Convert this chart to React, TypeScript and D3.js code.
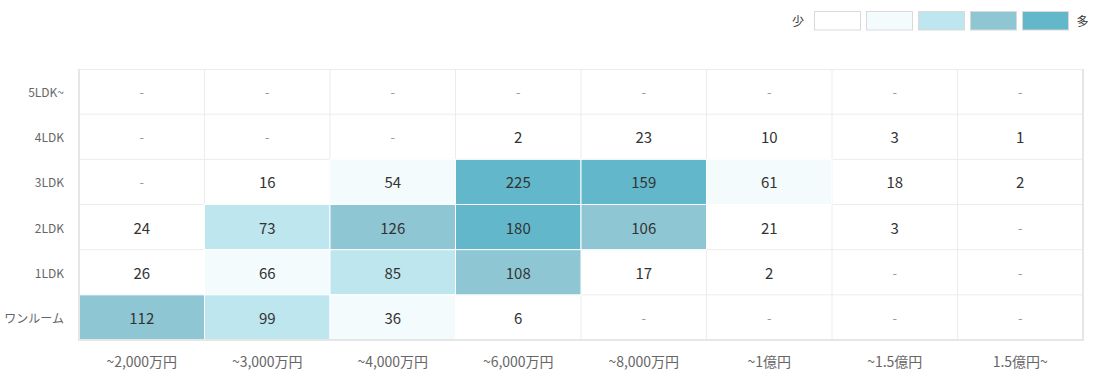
import React from "react";
import * as d3 from "d3";

const columns = ["~2,000万円", "~3,000万円", "~4,000万円", "~6,000万円", "~8,000万円", "~1億円", "~1.5億円", "1.5億円~"];
const rows = ["5LDK~", "4LDK", "3LDK", "2LDK", "1LDK", "ワンルーム"];
const row5LDK: (number | null)[] = [null, null, null, null, null, null, null, null];
const row4LDK: (number | null)[] = [null, null, null, 2, 23, 10, 3, 1];
const row3LDK: (number | null)[] = [null, 16, 54, 225, 159, 61, 18, 2];
const row2LDK: (number | null)[] = [24, 73, 126, 180, 106, 21, 3, null];
const row1LDK: (number | null)[] = [26, 66, 85, 108, 17, 2, null, null];
const rowOneRoom: (number | null)[] = [112, 99, 36, 6, null, null, null, null];
const values = [row5LDK, row4LDK, row3LDK, row2LDK, row1LDK, rowOneRoom];
const thresholds = [30, 70, 100, 150];
const palette = ["#ffffff", "#f3fbfd", "#bee6ee", "#8ec7d3", "#62b7ca"];

export default function App() {
  const W = 1093, H = 380;
  const left = 79, right = 1083, top = 69, bottom = 340;
  const x = d3.scaleBand<string>().domain(columns).range([left, right]);
  const y = d3.scaleBand<string>().domain(rows).range([top, bottom]);
  const color = d3.scaleThreshold<number, string>().domain(thresholds).range(palette);
  const font = "'Noto Sans CJK JP', 'Noto Sans', sans-serif";
  const lx = d3.scaleBand<number>().domain(d3.range(5)).range([814, 1069]).paddingInner(5 / 52).paddingOuter(0);

  return (
    <svg width={W} height={H} style={{ position: "absolute", left: 0, top: 0 }} fontFamily={font}>
      <rect x={0} y={0} width={W} height={H} fill="#fff" />
      {/* legend */}
      <text x={798} y={20.5} fontSize={12} fill="#333" textAnchor="middle" dominantBaseline="central">少</text>
      {palette.map((c, i) => (
        <rect key={i} x={lx(i)! + 0.5} y={11.5} width={lx.bandwidth() - 1} height={18.5} fill={c} stroke="#d9d9d9" strokeWidth={1} />
      ))}
      <text x={1082.5} y={20.5} fontSize={12} fill="#333" textAnchor="middle" dominantBaseline="central">多</text>

      {/* grid lines */}
      {columns.slice(1).map((c) => (
        <line key={c} x1={x(c)!} x2={x(c)!} y1={top} y2={bottom} stroke="#ececec" strokeWidth={1} />
      ))}
      {rows.slice(1).map((r) => (
        <line key={r} x1={left} x2={right} y1={y(r)!} y2={y(r)!} stroke="#ececec" strokeWidth={1} />
      ))}

      {/* cells */}
      {rows.map((r, ri) =>
        columns.map((c, ci) => {
          const v = values[ri][ci];
          const fill = v == null ? "#ffffff" : color(v);
          return fill !== "#ffffff" ? (
            <rect key={r + c} x={x(c)!} y={y(r)!} width={x.bandwidth()} height={y.bandwidth()} fill={fill} stroke="#fff" strokeWidth={1} />
          ) : null;
        })
      )}
      {rows.map((r, ri) =>
        columns.map((c, ci) => {
          const v = values[ri][ci];
          return (
            <text
              key={"t" + r + c}
              x={x(c)! + x.bandwidth() / 2}
              y={y(r)! + y.bandwidth() / 2}
              textAnchor="middle"
              dominantBaseline="central"
              fontSize={v == null ? 13 : 15}
              fill={v == null ? "#999" : "#333"}
            >
              {v == null ? "-" : v}
            </text>
          );
        })
      )}

      {/* outer border */}
      <line x1={left} x2={right} y1={top + 0.5} y2={top + 0.5} stroke="#ececec" strokeWidth={1} />
      <line x1={left} x2={left} y1={top} y2={bottom + 1} stroke="#e6e6e6" strokeWidth={2} />
      <line x1={right} x2={right} y1={top} y2={bottom + 1} stroke="#e6e6e6" strokeWidth={2} />
      <line x1={left} x2={right} y1={bottom} y2={bottom} stroke="#e6e6e6" strokeWidth={2} />

      {/* row labels */}
      {rows.map((r) => (
        <text key={"r" + r} x={64} y={y(r)! + y.bandwidth() / 2} textAnchor="end" dominantBaseline="central" fontSize={12} fill="#666">
          {r}
        </text>
      ))}
      {/* column labels */}
      {columns.map((c) => (
        <text key={"c" + c} x={x(c)! + x.bandwidth() / 2} y={361} textAnchor="middle" dominantBaseline="central" fontSize={14} fill="#666">
          {c}
        </text>
      ))}
    </svg>
  );
}
